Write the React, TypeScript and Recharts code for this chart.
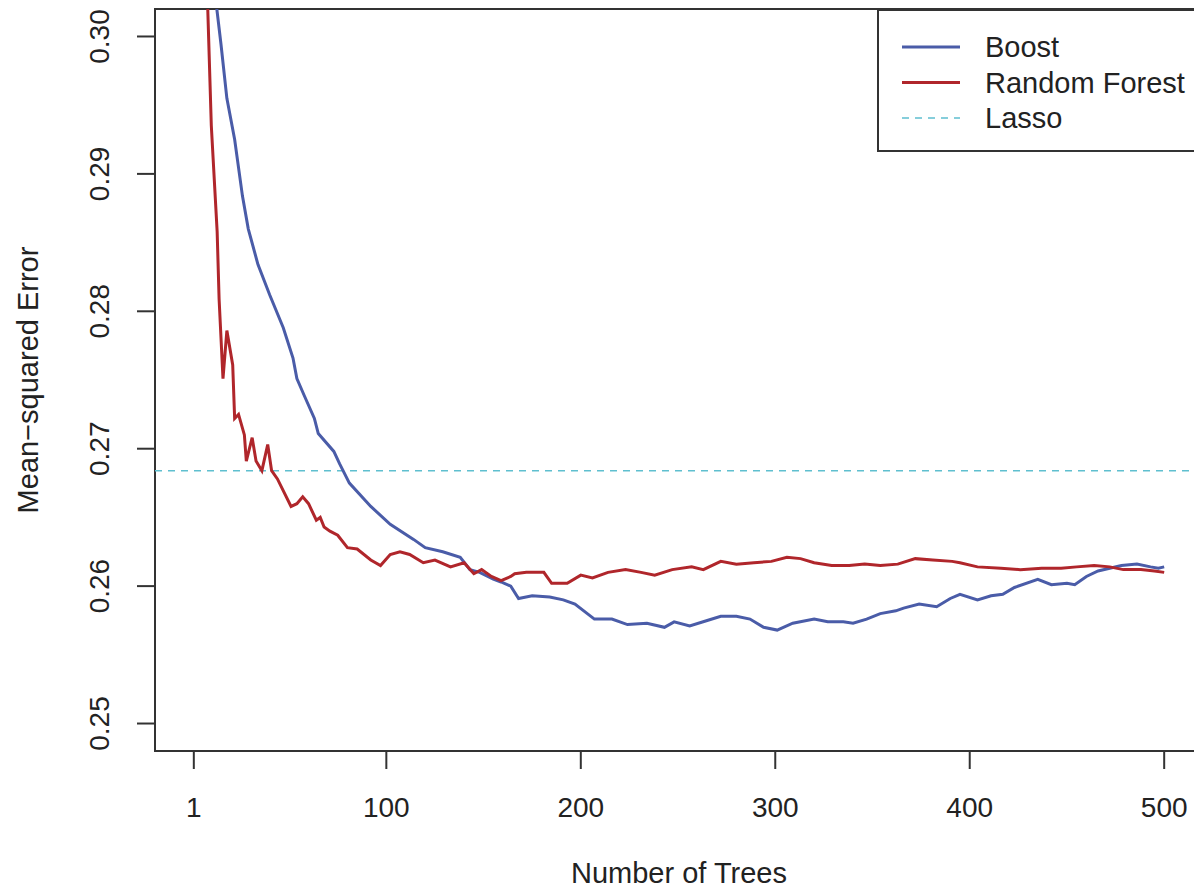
import { LineChart, Line, XAxis, YAxis, ReferenceLine, ReferenceArea, Legend } from 'recharts';

// Boosting test error by number of trees
const boostTrees = [
  1, 5, 10, 13, 15, 18, 22, 26, 29, 34, 40, 47, 52, 54, 58, 63, 65, 73, 76, 81,
  92, 102, 114, 120, 129, 138, 143, 148, 155, 159, 164, 168, 175, 184, 191, 197,
  207, 216, 224, 234, 243, 248, 256, 265, 272, 280, 287, 294, 301, 309, 320, 327,
  335, 340, 347, 354, 362, 366, 374, 383, 390, 395, 404, 411, 417, 423, 435, 442,
  450, 454, 460, 466, 472, 478, 486, 493, 497, 500,
];
const boostMse = [
  0.33, 0.318, 0.3055, 0.3018, 0.2994, 0.2955, 0.2925, 0.2884, 0.286, 0.2834, 0.2812,
  0.2788, 0.2766, 0.2751, 0.2738, 0.2722, 0.2711, 0.2698, 0.2689, 0.2675, 0.2658,
  0.2645, 0.2634, 0.2628, 0.2625, 0.2621, 0.2612, 0.261, 0.2605, 0.2603, 0.26,
  0.2591, 0.2593, 0.2592, 0.259, 0.2587, 0.2576, 0.2576, 0.2572, 0.2573, 0.257,
  0.2574, 0.2571, 0.2575, 0.2578, 0.2578, 0.2576, 0.257, 0.2568, 0.2573, 0.2576,
  0.2574, 0.2574, 0.2573, 0.2576, 0.258, 0.2582, 0.2584, 0.2587, 0.2585, 0.2591,
  0.2594, 0.259, 0.2593, 0.2594, 0.2599, 0.2605, 0.2601, 0.2602, 0.2601, 0.2607,
  0.2611, 0.2613, 0.2615, 0.2616, 0.2614, 0.2613, 0.2614,
];

// Random forest test error by number of trees
const rfTrees = [
  1, 5, 8, 10, 13, 14, 16, 18, 21, 22, 24, 27, 28, 31, 33, 36, 39, 41, 44, 51, 54,
  57, 60, 64, 66, 68, 71, 75, 80, 85, 92, 97, 102, 107, 112, 119, 125, 133, 140,
  145, 149, 154, 159, 164, 166, 172, 181, 185, 193, 200, 206, 214, 223, 231, 238,
  247, 257, 263, 272, 280, 289, 298, 306, 313, 320, 329, 338, 346, 354, 363, 372,
  381, 391, 395, 404, 416, 426, 437, 447, 455, 464, 472, 479, 488, 495, 500,
];
const rfMse = [
  0.4, 0.322, 0.3028, 0.2935, 0.2858, 0.2809, 0.2751, 0.2786, 0.2761, 0.2722, 0.2725,
  0.271, 0.2691, 0.2708, 0.2691, 0.2684, 0.2703, 0.2684, 0.2678, 0.2658, 0.266,
  0.2665, 0.266, 0.2648, 0.265, 0.2643, 0.264, 0.2637, 0.2628, 0.2627, 0.2619,
  0.2615, 0.2623, 0.2625, 0.2623, 0.2617, 0.2619, 0.2614, 0.2617, 0.2609, 0.2612,
  0.2607, 0.2604, 0.2607, 0.2609, 0.261, 0.261, 0.2602, 0.2602, 0.2608, 0.2606,
  0.261, 0.2612, 0.261, 0.2608, 0.2612, 0.2614, 0.2612, 0.2618, 0.2616, 0.2617,
  0.2618, 0.2621, 0.262, 0.2617, 0.2615, 0.2615, 0.2616, 0.2615, 0.2616, 0.262,
  0.2619, 0.2618, 0.2617, 0.2614, 0.2613, 0.2612, 0.2613, 0.2613, 0.2614, 0.2615,
  0.2614, 0.2612, 0.2612, 0.2611, 0.261,
];

const lassoMse = 0.2684;

const xTicks = [1, 100, 200, 300, 400, 500];
const yTicks = [0.25, 0.26, 0.27, 0.28, 0.29, 0.3];
const xDomain: [number, number] = [-18.96, 519.96];
const yDomain: [number, number] = [0.248, 0.302];

const legendItems = [
  { name: 'Boost', color: '#4a5ca8', dash: '', width: 3 },
  { name: 'Random Forest', color: '#b0262b', dash: '', width: 3 },
  { name: 'Lasso', color: '#5fbfcf', dash: '7 6', width: 1.5 },
];

const boostData = boostTrees.map((tree, i) => ({ tree, mse: boostMse[i] }));
const rfData = rfTrees.map((tree, i) => ({ tree, mse: rfMse[i] }));

const FONT = '"Liberation Sans", Arial, Helvetica, sans-serif';
const INK = '#222';

const YTick = ({ x, y, payload }: { x?: number; y?: number; payload?: { value: number } }) => {
  const cx = (x ?? 0) - 37;
  return (
    <text
      x={cx}
      y={y}
      transform={`rotate(-90, ${cx}, ${y})`}
      textAnchor="middle"
      dominantBaseline="central"
      fill={INK}
      fontSize={28}
      fontFamily={FONT}
    >
      {payload?.value.toFixed(2)}
    </text>
  );
};

const XTick = ({ x, y, payload }: { x?: number; y?: number; payload?: { value: number } }) => (
  <text x={x} y={(y ?? 0) + 48} textAnchor="middle" fill={INK} fontSize={28} fontFamily={FONT}>
    {payload?.value}
  </text>
);

const LegendBox = () => (
  <div
    style={{
      width: 330,
      height: 143,
      boxSizing: 'border-box',
      border: '2px solid #333',
      background: '#fff',
    }}
  >
    <svg width={326} height={139}>
      {legendItems.map((item, i) => {
        const cy = 36 + i * 35.5;
        return (
          <g key={item.name}>
            <line
              x1={23}
              x2={81}
              y1={cy}
              y2={cy}
              stroke={item.color}
              strokeWidth={item.width}
              strokeDasharray={item.dash || undefined}
            />
            <text x={106} y={cy + 10} fill={INK} fontSize={29} fontFamily={FONT}>
              {item.name}
            </text>
          </g>
        );
      })}
    </svg>
  </div>
);

export default function App() {
  return (
    <div
      style={{
        position: 'absolute',
        left: 0,
        top: 0,
        width: 1194,
        height: 889,
        overflow: 'hidden',
        background: '#fff',
      }}
    >
      <LineChart width={1210} height={889} margin={{ top: 9, right: 7, left: 75, bottom: 0 }}>
        <XAxis
          type="number"
          dataKey="tree"
          domain={xDomain}
          ticks={xTicks}
          allowDataOverflow
          height={138}
          axisLine={false}
          tickLine={{ stroke: '#333', strokeWidth: 2 }}
          tickSize={18}
          tickMargin={0}
          tick={<XTick />}
          label={{
            content: ({ viewBox }: any) => (
              <text
                x={viewBox.x + viewBox.width / 2}
                y={883}
                textAnchor="middle"
                fill={INK}
                fontSize={29}
                fontFamily={FONT}
              >
                Number of Trees
              </text>
            ),
          }}
        />
        <YAxis
          type="number"
          domain={yDomain}
          ticks={yTicks}
          allowDataOverflow
          width={80}
          axisLine={false}
          tickLine={{ stroke: '#333', strokeWidth: 2 }}
          tickSize={18}
          tickMargin={0}
          tick={<YTick />}
          label={{
            content: ({ viewBox }: any) => {
              const cy = viewBox.y + viewBox.height / 2;
              return (
                <text
                  x={28}
                  y={cy}
                  transform={`rotate(-90, 28, ${cy})`}
                  textAnchor="middle"
                  dominantBaseline="central"
                  fill={INK}
                  fontSize={29}
                  fontFamily={FONT}
                >
                  Mean−squared Error
                </text>
              );
            },
          }}
        />
        <ReferenceArea
          x1={xDomain[0]}
          x2={xDomain[1]}
          y1={yDomain[0]}
          y2={yDomain[1]}
          fill="none"
          stroke="#333"
          strokeWidth={2}
          ifOverflow="visible"
        />
        <ReferenceLine y={lassoMse} stroke="#5fbfcf" strokeWidth={1.5} strokeDasharray="7 6" />
        <Line
          data={boostData}
          dataKey="mse"
          name="Boost"
          type="linear"
          stroke="#4a5ca8"
          strokeWidth={3}
          dot={false}
          activeDot={false}
          isAnimationActive={false}
        />
        <Line
          data={rfData}
          dataKey="mse"
          name="Random Forest"
          type="linear"
          stroke="#b0262b"
          strokeWidth={3}
          dot={false}
          activeDot={false}
          isAnimationActive={false}
        />
        <Legend
          layout="horizontal"
          verticalAlign="middle"
          align="center"
          content={() => <LegendBox />}
          wrapperStyle={{ position: 'absolute', left: 877, top: 9, width: 330, height: 143 }}
        />
      </LineChart>
    </div>
  );
}
